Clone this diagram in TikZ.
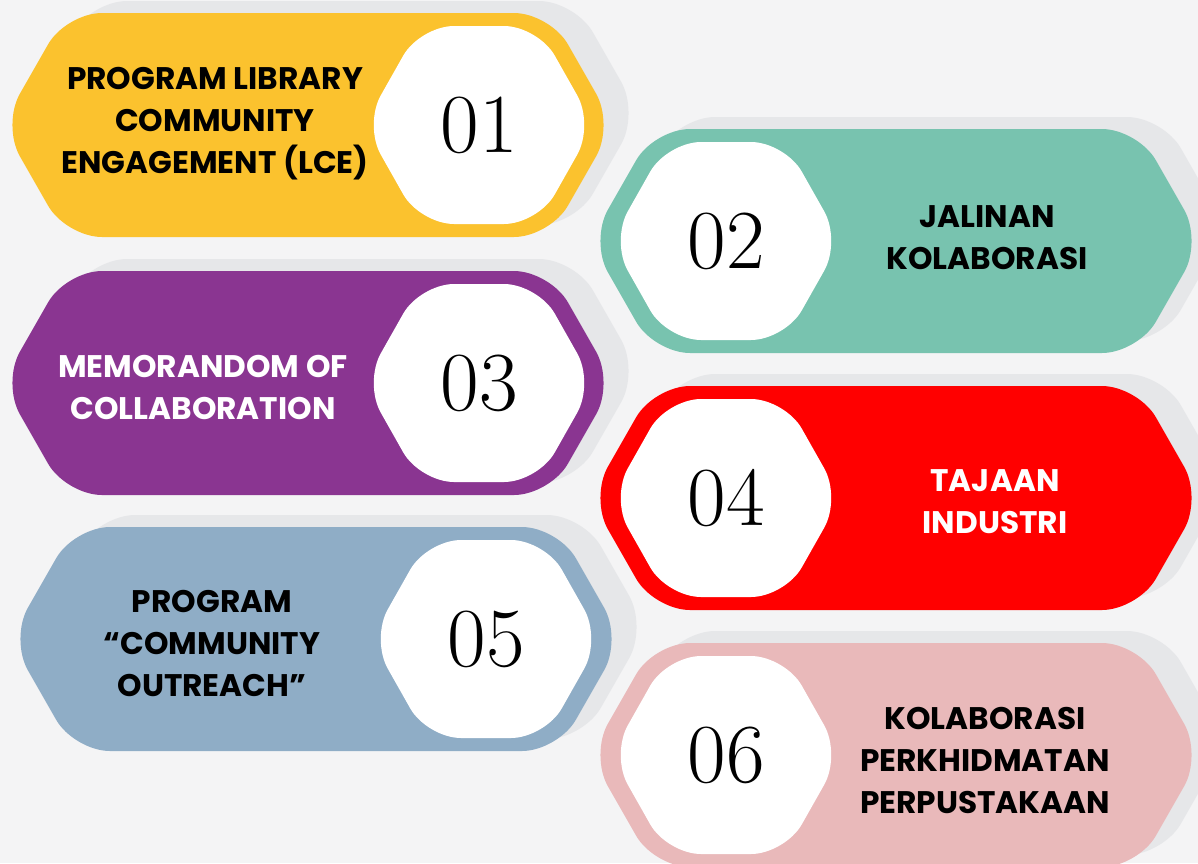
\documentclass[tikz,border=0pt]{standalone}
\usepackage{fontspec}
\newfontfamily\labelfont{Poppins}

\definecolor{backgray}{HTML}{F4F4F5}
\definecolor{shadowgray}{HTML}{E6E7E9}
\definecolor{bannerA}{HTML}{FBC22E}
\definecolor{bannerB}{HTML}{78C3AF}
\definecolor{bannerC}{HTML}{8A3591}
\definecolor{bannerD}{HTML}{FF0000}
\definecolor{bannerE}{HTML}{8FADC6}
\definecolor{bannerF}{HTML}{E9B9BA}

% hexagon path: centre x, centre y, half width, half height, slant
\newcommand\hexpath[5]{
  (#1-#3,#2) -- (#1-#3+#5,#2-#4) -- (#1+#3-#5,#2-#4)
    -- (#1+#3,#2) -- (#1+#3-#5,#2+#4) -- (#1-#3+#5,#2+#4) -- cycle
}
% banner: centre x, centre y, colour, centre x of the white hexagon
\newcommand\banner[4]{
  \fill[shadowgray, rounded corners=18pt] \hexpath{#1+25}{#2-12}{306}{112}{64};
  \fill[#3, rounded corners=18pt] \hexpath{#1}{#2}{306}{112}{64};
  \fill[white, rounded corners=17pt] \hexpath{#4}{#2}{115}{99}{56};
}

\begin{document}
\begin{tikzpicture}[
    x=0.5pt, y=-0.5pt,
    label/.style={font=\labelfont\bfseries\fontsize{15.6}{21}\selectfont,
      align=center, text=black},
    number/.style={font=\fontsize{42}{42}\selectfont, text=black}
  ]
    \useasboundingbox (0,0) rectangle (1198,863);
    \fill[backgray] (0,0) rectangle (1198,863);

    \banner{308}{125}{bannerA}{479}
    \banner{896}{241}{bannerB}{726}
    \banner{308}{383}{bannerC}{479}
    \banner{896}{498}{bannerD}{726}
    \banner{316}{639}{bannerE}{486}
    \banner{896}{755}{bannerF}{726}

    \node[number] (n1) at (479,125) {01};
    \node[number] (n2) at (726,241) {02};
    \node[number] (n3) at (479,383) {03};
    \node[number] (n4) at (726,498) {04};
    \node[number] (n5) at (486,639) {05};
    \node[number] (n6) at (726,755) {06};

    \node[label] (t1) at (215,124) {PROGRAM LIBRARY\\COMMUNITY\\ENGAGEMENT (LCE)};
    \node[label] (t2) at (987,238) {JALINAN\\KOLABORASI};
    \node[label, text=white] (t3) at (203,387) {MEMORANDOM OF\\COLLABORATION};
    \node[label, text=white] (t4) at (995,502) {TAJAAN\\INDUSTRI};
    \node[label] (t5) at (212,643) {PROGRAM\\“COMMUNITY\\OUTREACH”};
    \node[label] (t6) at (985,760) {KOLABORASI\\PERKHIDMATAN\\PERPUSTAKAAN};
\end{tikzpicture}
\end{document}
